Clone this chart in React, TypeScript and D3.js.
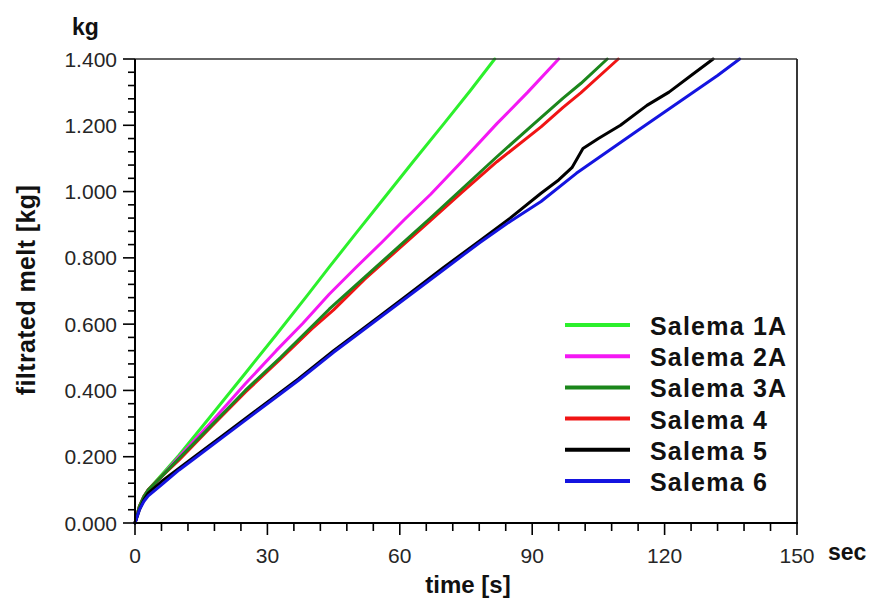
import React from "react";
import * as d3 from "d3";

// Filtrated melt mass (kg) over time (s) for each Salema sample
const salema1A: [number, number][] = [
  [0, 0], [1, 0.05], [2, 0.08], [3, 0.1], [6, 0.145], [10, 0.205], [17, 0.32],
  [25, 0.452], [32, 0.568], [39, 0.686], [44, 0.772], [50, 0.873], [56, 0.973],
  [63, 1.09], [70, 1.205], [76, 1.305], [81.5, 1.4],
];
const salema2A: [number, number][] = [
  [0, 0], [1, 0.05], [2, 0.08], [3, 0.1], [6, 0.14], [10, 0.2], [17, 0.3],
  [25, 0.42], [32, 0.52], [38, 0.602], [44, 0.69], [50, 0.77], [56, 0.848],
  [61, 0.915], [67, 0.992], [74, 1.09], [82, 1.205], [89, 1.3], [96, 1.4],
];
const salema3A: [number, number][] = [
  [0, 0], [1, 0.05], [2, 0.08], [3, 0.1], [6, 0.14], [10, 0.195], [17, 0.29],
  [25, 0.4], [33, 0.5], [40, 0.592], [44, 0.645], [52, 0.741], [60, 0.837],
  [67, 0.921], [74, 1.007], [82, 1.105], [90, 1.2], [97, 1.282], [101, 1.326], [107, 1.4],
];
const salema4: [number, number][] = [
  [0, 0], [1, 0.05], [2, 0.08], [3, 0.1], [6, 0.14], [10, 0.19], [17, 0.287],
  [25, 0.395], [33, 0.495], [40, 0.585], [45, 0.643], [52, 0.735], [60, 0.83],
  [67, 0.913], [74, 0.997], [82, 1.09], [92, 1.195], [97, 1.254], [101, 1.298], [109.5, 1.4],
];
const salema5: [number, number][] = [
  [0, 0], [1, 0.04], [2, 0.07], [3, 0.09], [6, 0.125], [10, 0.165], [14, 0.205],
  [20, 0.265], [27, 0.335], [33, 0.395], [37, 0.435], [45, 0.52], [50, 0.57],
  [55.5, 0.625], [62, 0.69], [70, 0.772], [78, 0.85], [85, 0.92], [92, 0.995],
  [96, 1.035], [99, 1.072], [101.5, 1.13], [105, 1.16], [110, 1.2], [116, 1.26],
  [121, 1.3], [126, 1.35], [131, 1.4],
];
const salema6: [number, number][] = [
  [0, 0], [1, 0.04], [2, 0.065], [3, 0.082], [6, 0.115], [10, 0.16], [14, 0.2],
  [20, 0.26], [27, 0.33], [33, 0.39], [37, 0.43], [45, 0.515], [50, 0.565],
  [55.5, 0.62], [62, 0.685], [70, 0.765], [78, 0.845], [85, 0.91], [92, 0.97],
  [100, 1.055], [107, 1.12], [114, 1.185], [120, 1.24], [126, 1.295], [132, 1.35],
  [137, 1.4],
];

const seriesNames = ["Salema 1A", "Salema 2A", "Salema 3A", "Salema 4", "Salema 5", "Salema 6"];
const seriesColors = ["#2cf02c", "#f418f4", "#1b861b", "#f01414", "#000000", "#1414e0"];
const seriesData = [salema1A, salema2A, salema3A, salema4, salema5, salema6];
// paint order: later series sit on top
const drawOrder = [0, 1, 3, 2, 4, 5];

const xMajorTicks = [0, 30, 60, 90, 120, 150];
const yMajorTicks = [0, 0.2, 0.4, 0.6, 0.8, 1.0, 1.2, 1.4];

const W = 873;
const H = 599;
const LEFT = 135;
const RIGHT = 797;
const TOP = 59;
const BOTTOM = 523;

export default function App() {
  const x = d3.scaleLinear().domain([0, 150]).range([LEFT, RIGHT]);
  const y = d3.scaleLinear().domain([0, 1.4]).range([BOTTOM, TOP]);
  const line = d3
    .line<[number, number]>()
    .x((d) => x(d[0]))
    .y((d) => y(d[1]))
    .curve(d3.curveLinear);

  const xMinor = d3.range(0, 150.001, 6).filter((t) => Math.abs(t % 30) > 1e-6);
  const yMinor = d3
    .range(0, 36)
    .map((i) => +(i * 0.04).toFixed(3))
    .filter((v) => v <= 1.4 && Math.round(v * 1000) % 200 !== 0);
  const fmt = d3.format(".3f");

  const tickFont = "'Liberation Sans', Arial, sans-serif";
  const legendY0 = 325;
  const legendStep = 31.2;

  return (
    <svg
      width={W}
      height={H}
      style={{ position: "absolute", left: 0, top: 0, background: "#fff" }}
      xmlns="http://www.w3.org/2000/svg"
    >
      <rect x={0} y={0} width={W} height={H} fill="#fff" />

      {/* data lines */}
      <g fill="none" strokeWidth={3} strokeLinejoin="round" strokeLinecap="round">
        {drawOrder.map((i) => (
          <path key={seriesNames[i]} d={line(seriesData[i]) || ""} stroke={seriesColors[i]} />
        ))}
      </g>

      {/* frame */}
      <line x1={LEFT} x2={RIGHT} y1={TOP} y2={TOP} stroke="#333" strokeWidth={1.5} />
      <line x1={RIGHT} x2={RIGHT} y1={TOP} y2={BOTTOM} stroke="#222" strokeWidth={1.8} />
      <line x1={LEFT} x2={RIGHT + 1} y1={BOTTOM} y2={BOTTOM} stroke="#000" strokeWidth={2} />
      <line x1={LEFT} x2={LEFT} y1={TOP} y2={BOTTOM + 1} stroke="#000" strokeWidth={2} />

      {/* x ticks */}
      <g stroke="#000" strokeWidth={1.6}>
        {xMajorTicks.map((t) => (
          <line key={"xM" + t} x1={x(t)} x2={x(t)} y1={BOTTOM} y2={BOTTOM + 12} />
        ))}
        {xMinor.map((t) => (
          <line key={"xm" + t} x1={x(t)} x2={x(t)} y1={BOTTOM} y2={BOTTOM + 8} />
        ))}
      </g>
      <g fontFamily={tickFont} fontSize={21} fill="#262626" textAnchor="middle">
        {xMajorTicks.map((t) => (
          <text key={"xl" + t} x={x(t)} y={563}>
            {String(t)}
          </text>
        ))}
      </g>

      {/* y ticks */}
      <g stroke="#000" strokeWidth={1.6}>
        {yMajorTicks.map((v) => (
          <line key={"yM" + v} x1={LEFT - 12} x2={LEFT} y1={y(v)} y2={y(v)} />
        ))}
        {yMinor.map((v) => (
          <line key={"ym" + v} x1={LEFT - 7} x2={LEFT} y1={y(v)} y2={y(v)} />
        ))}
      </g>
      <g fontFamily={tickFont} fontSize={21} fill="#262626" textAnchor="end">
        {yMajorTicks.map((v) => (
          <text key={"yl" + v} x={117} y={y(v)} dy="0.36em">
            {fmt(v)}
          </text>
        ))}
      </g>

      {/* axis titles and units */}
      <g fontFamily={tickFont} fontWeight="bold" fill="#111">
        <text x={72} y={35} fontSize={23}>kg</text>
        <text x={828} y={560} fontSize={23}>sec</text>
        <text x={468} y={593} fontSize={24} textAnchor="middle">time [s]</text>
        <text
          transform="translate(35,290) rotate(-90)"
          fontSize={25}
          textAnchor="middle"
          letterSpacing={0.4}
        >
          filtrated melt [kg]
        </text>
      </g>

      {/* legend */}
      <g>
        {seriesNames.map((name, i) => {
          const ly = legendY0 + i * legendStep;
          return (
            <g key={name}>
              <line x1={565} x2={630} y1={ly} y2={ly} stroke={seriesColors[i]} strokeWidth={4} />
              <text
                x={650}
                y={ly + 10}
                fontFamily={tickFont}
                fontWeight="bold"
                fontSize={25}
                letterSpacing={1.2}
                fill="#111"
              >
                {name}
              </text>
            </g>
          );
        })}
      </g>
    </svg>
  );
}
